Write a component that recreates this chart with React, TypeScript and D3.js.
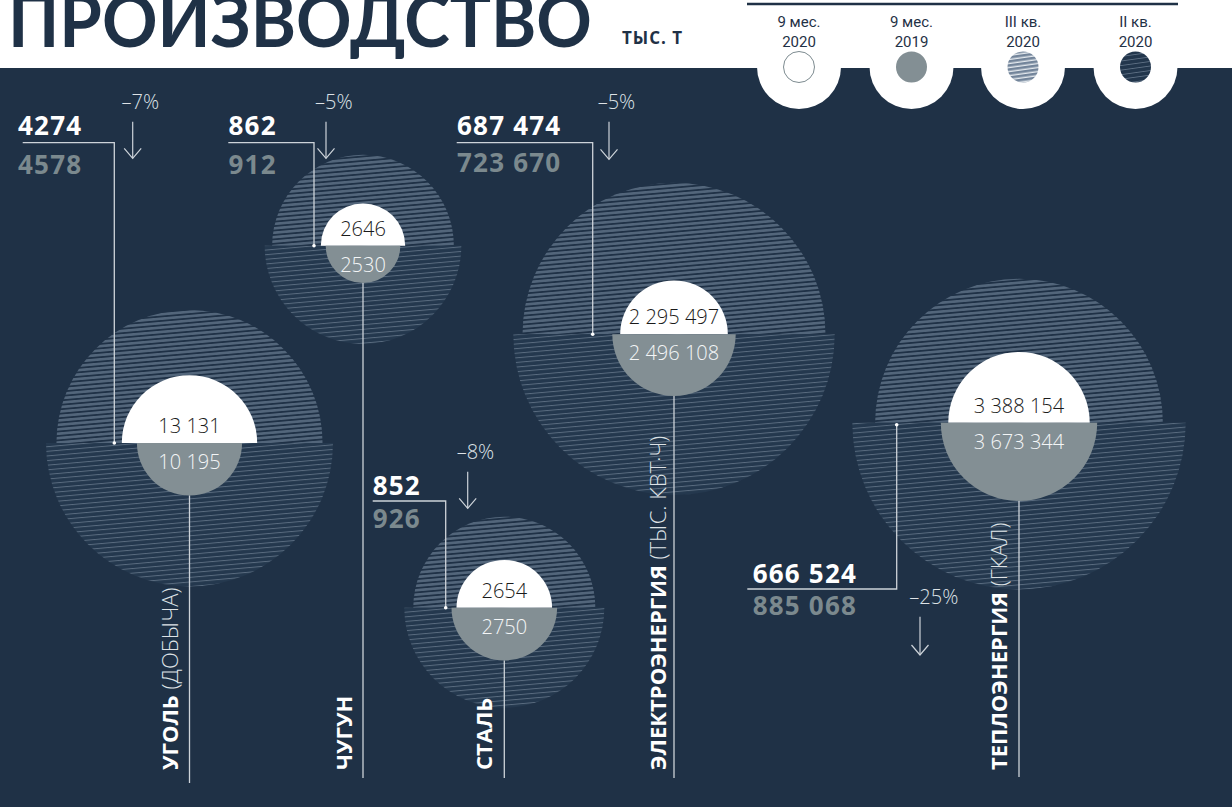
import React from 'react';
import * as d3 from 'd3';

// ---------- DATA ----------
const categories = ['УГОЛЬ', 'ЧУГУН', 'СТАЛЬ', 'ЭЛЕКТРОЭНЕРГИЯ', 'ТЕПЛОЭНЕРГИЯ'];
const unitNotes = [' (ДОБЫЧА)', '', '', ' (ТЫС. КВТ·Ч)', ' (ГКАЛ)'];
const nineMonths2020 = [13131, 2646, 2654, 2295497, 3388154];
const nineMonths2019 = [10195, 2530, 2750, 2496108, 3673344];
const quarter3_2020 = [4274, 862, 852, 687474, 666524];
const quarter2_2020 = [4578, 912, 926, 723670, 885068];
const changeLabels = ['–7%', '–5%', '–8%', '–5%', '–25%'];
const legendTop = ['9 мес.', '9 мес.', 'III кв.', 'II кв.'];
const legendBottom = ['2020', '2019', '2020', '2020'];
const titleText = 'ПРОИЗВОДСТВО';
const titleUnit = 'ТЫС. Т';

// ---------- LAYOUT (positions / sizes only) ----------
const layout = [
  { cx: 189.5, cy: 443, qR: 143.5, qExp: 1.1, mR: 67.7, mExp: 1.0, lineEnd: 783, labelOff: 12,
    numX: 18, numY: 135, lineY: 142.7, grayY: 174, lx0: 22.7, lx: 114.3,
    pctX: 121.5, pctY: 108.5, ax: 132.7, ay0: 121.7, ay1: 158.3 },
  { cx: 363, cy: 245.7, qR: 98.3, qExp: 1.4, mR: 42.2, mExp: 2.75, lineEnd: 778, labelOff: 11,
    numX: 228.5, numY: 135, lineY: 142.7, grayY: 174, lx0: 228.3, lx: 314,
    pctX: 315, pctY: 108.5, ax: 326, ay0: 121.7, ay1: 158.3 },
  { cx: 504.3, cy: 607.7, qR: 100, qExp: 1.13, mR: 52.8, mExp: 2.8, lineEnd: 778, labelOff: 12.3,
    numX: 372.7, numY: 495, lineY: 501, grayY: 528, lx0: 372.7, lx: 445.7,
    pctX: 456.7, pctY: 458.5, ax: 467.7, ay0: 471.7, ay1: 508.3 },
  { cx: 674, cy: 334.3, qR: 160.7, qExp: 1.15, mR: 61.7, mExp: 1.63, lineEnd: 778, labelOff: 7.6,
    numX: 457, numY: 135, lineY: 142.7, grayY: 172, lx0: 456.7, lx: 592.7,
    pctX: 597.7, pctY: 109, ax: 609, ay0: 121.7, ay1: 159.3 },
  { cx: 1019, cy: 422.7, qR: 166.7, qExp: 0.52, mR: 78.2, mExp: 1.24, lineEnd: 777, labelOff: 12.3,
    numX: 752.7, numY: 583, lineY: 589, grayY: 615, lx0: 747.3, lx: 896.7,
    pctX: 909.3, pctY: 604.3, ax: 920, ay0: 616.7, ay1: 655 },
];
const legendX = [799, 911.5, 1023, 1135.5];

const NAVY = '#1f3146';
const GRAY = '#838f94';
const GRAY_TXT = '#7b898e';
const LINE = '#cdd3d9';
const FONT = "'Open Sans', 'DejaVu Sans', sans-serif";

const fmt = (v: number) => (v >= 10000 ? d3.format(',')(v).replace(/,/g, ' ') : String(v));

const arcTop = (r: number) =>
  d3.arc()({ innerRadius: 0, outerRadius: r, startAngle: -Math.PI / 2, endAngle: Math.PI / 2 } as any) as string;
const arcBottom = (r: number) =>
  d3.arc()({ innerRadius: 0, outerRadius: r, startAngle: Math.PI / 2, endAngle: (3 * Math.PI) / 2 } as any) as string;

export default function App() {
  const W = 1232;
  const H = 807;

  return (
    <svg width={W} height={H} style={{ position: 'absolute', left: 0, top: 0 }} fontFamily={FONT}>
      <defs>
        <pattern id="pTop" patternUnits="userSpaceOnUse" width={12} height={4.4} patternTransform="rotate(-5)">
          <rect width={12} height={4.4} fill={NAVY} />
          <rect width={12} height={2.6} fill="#53667b" />
        </pattern>
        <pattern id="pBot" patternUnits="userSpaceOnUse" width={12} height={4.6} patternTransform="rotate(-5)">
          <rect width={12} height={4.6} fill="#24384e" />
          <rect width={12} height={1} fill="#596b7f" />
        </pattern>
        <pattern id="lTop" patternUnits="userSpaceOnUse" width={12} height={4} patternTransform="rotate(-8)">
          <rect width={12} height={4} fill="#e4e9ee" />
          <rect width={12} height={2.6} fill="#72849a" />
        </pattern>
        <pattern id="lBot" patternUnits="userSpaceOnUse" width={12} height={4.5} patternTransform="rotate(-8)">
          <rect width={12} height={4.5} fill="#22364c" />
          <rect width={12} height={0.9} fill="#5c6e82" />
        </pattern>
      </defs>

      <rect x={0} y={0} width={W} height={H} fill="#ffffff" />
      <rect x={0} y={68} width={W} height={H - 68} fill={NAVY} />

      {/* title */}
      <text x={8} y={47} fontSize={72} fontWeight={700} fill={NAVY} textLength={584} lengthAdjust="spacingAndGlyphs"
        fontFamily="'Lato', 'Open Sans', sans-serif">{titleText}</text>
      <text x={622} y={44} fontSize={17} fontWeight={700} fill={NAVY} letterSpacing={1}>{titleUnit}</text>

      {/* legend */}
      <line x1={747} x2={1178} y1={4} y2={4} stroke={NAVY} strokeWidth={2.5} />
      {legendX.map((x, i) => (
        <g key={'lg' + i}>
          <circle cx={x} cy={67} r={42} fill="#ffffff" />
          <text x={x} y={26.5} textAnchor="middle" fontSize={15} fill={NAVY} fontFamily="'Roboto', sans-serif">{legendTop[i]}</text>
          <text x={x} y={46.5} textAnchor="middle" fontSize={15} fill={NAVY} fontFamily="'Roboto', sans-serif">{legendBottom[i]}</text>
        </g>
      ))}
      <circle cx={legendX[0]} cy={67} r={15.5} fill="#ffffff" stroke="#7d8b90" strokeWidth={1} />
      <circle cx={legendX[1]} cy={67} r={15.5} fill={GRAY} />
      <circle cx={legendX[2]} cy={67} r={15.5} fill="url(#lTop)" />
      <circle cx={legendX[3]} cy={67} r={15.5} fill="url(#lBot)" />

      {/* bubbles: quarterly halves */}
      {categories.map((cat, i) => {
        const L = layout[i];
        const qScale = d3.scalePow().exponent(L.qExp)
          .domain([0, Math.max(quarter3_2020[i], quarter2_2020[i])]).range([0, L.qR]);
        const r3 = qScale(quarter3_2020[i]);
        const r2 = qScale(quarter2_2020[i]);
        return (
          <g key={'b' + i} transform={`translate(${L.cx},${L.cy})`}>
            <path d={arcTop(r3)} fill="url(#pTop)" />
            <path d={arcBottom(r2)} fill="url(#pBot)" />
          </g>
        );
      })}

      {categories.map((cat, i) => {
        const L = layout[i];
        const mScale = d3.scalePow().exponent(L.mExp)
          .domain([0, Math.max(nineMonths2020[i], nineMonths2019[i])]).range([0, L.mR]);
        const r20 = mScale(nineMonths2020[i]);
        const r19 = mScale(nineMonths2019[i]);
        const down = L.numY < L.cy;
        return (
          <g key={'c' + i}>
            <g transform={`translate(${L.cx},${L.cy})`}>
              <path d={arcTop(r20)} fill="#ffffff" />
              <path d={arcBottom(r19)} fill={GRAY} />
              <text x={0} y={-10} textAnchor="middle" fontSize={20} fontWeight={300} fill="#1a1a1a">{fmt(nineMonths2020[i])}</text>
              <text x={0} y={26} textAnchor="middle" fontSize={20} fontWeight={300} fill="#f4f6f7">{fmt(nineMonths2019[i])}</text>
            </g>
            {/* stem */}
            <line x1={L.cx} x2={L.cx} y1={L.cy + r19} y2={L.lineEnd} stroke={LINE} strokeWidth={1.3} />
            {/* label */}
            <text transform={`translate(${L.cx - L.labelOff},770) rotate(-90)`} fontSize={22} fill="#ffffff" style={{ whiteSpace: 'pre' }}>
              <tspan fontWeight={700}>{cat}</tspan>
              <tspan fontWeight={300} fill="#dde2e6">{unitNotes[i]}</tspan>
            </text>
            {/* callout */}
            <text x={L.numX} y={L.numY} fontSize={26} fontWeight={700} fill="#ffffff" letterSpacing={1.2}>{fmt(quarter3_2020[i])}</text>
            <text x={L.numX} y={L.grayY} fontSize={26} fontWeight={700} fill={GRAY_TXT} letterSpacing={1.2}>{fmt(quarter2_2020[i])}</text>
            <polyline points={`${L.lx0},${L.lineY} ${L.lx},${L.lineY} ${L.lx},${L.cy + (down ? 0 : 2)}`} fill="none" stroke={LINE} strokeWidth={1.3} />
            <circle cx={L.lx} cy={L.cy + (down ? 0 : 2)} r={1.8} fill="#ffffff" />
            <text x={L.pctX} y={L.pctY} fontSize={20} fontWeight={300} fill="#dde2e6">{changeLabels[i]}</text>
            <line x1={L.ax} x2={L.ax} y1={L.ay0} y2={L.ay1} stroke={LINE} strokeWidth={1.2} />
            <polyline points={`${L.ax - 8.5},${L.ay1 - 10} ${L.ax},${L.ay1} ${L.ax + 8.5},${L.ay1 - 10}`} fill="none" stroke={LINE} strokeWidth={1.2} />
          </g>
        );
      })}
    </svg>
  );
}
